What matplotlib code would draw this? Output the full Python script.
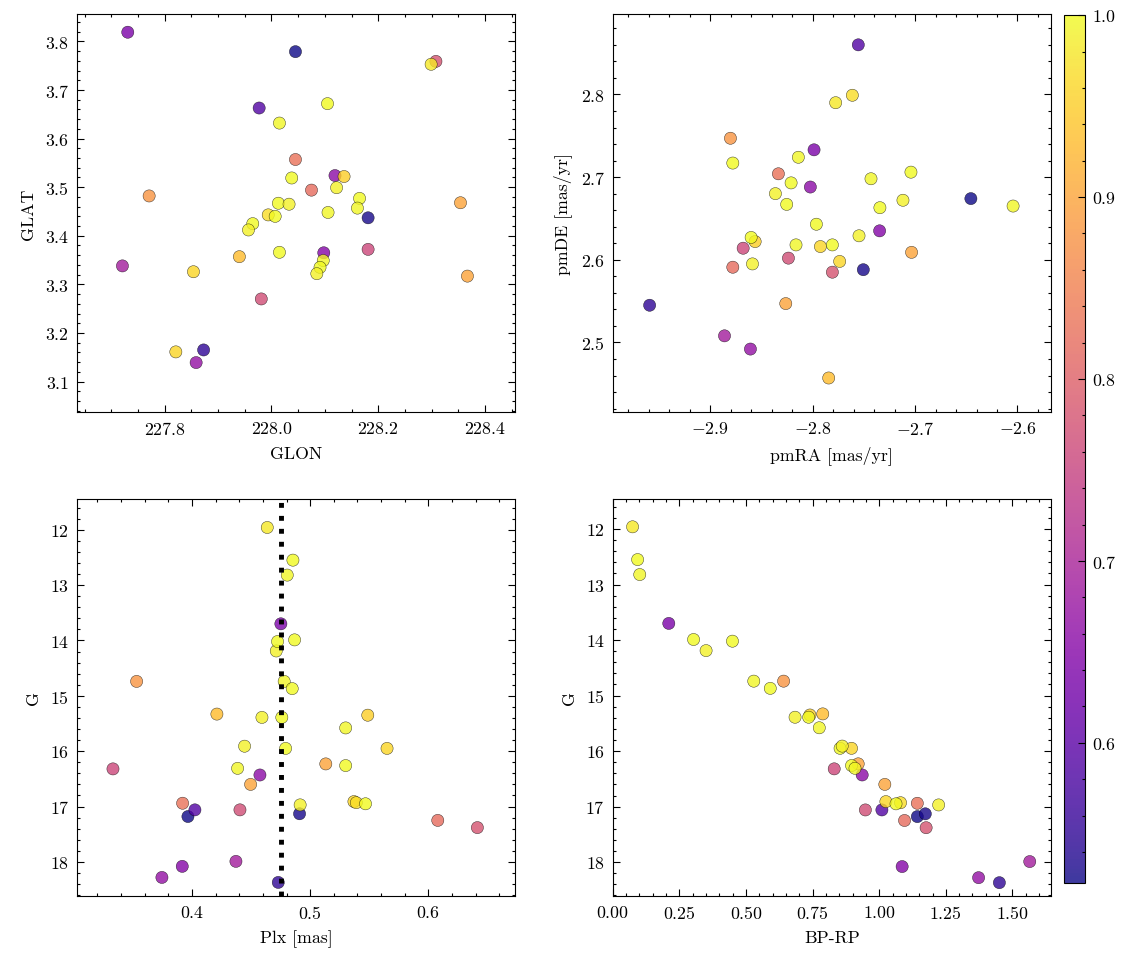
import matplotlib

matplotlib.use("Agg")
import matplotlib.pyplot as plt
from matplotlib.ticker import AutoMinorLocator, MultipleLocator

# one entry per star, same order in every list
GLON = [228.045, 228.181, 227.873,
        227.977, 227.721, 227.731, 228.119, 228.098, 227.859,
        228.181, 227.981, 228.308,
        228.045, 228.075,
        227.771, 228.354, 228.367,
        228.136, 227.940, 227.821, 227.854, 227.994,
        228.299, 228.105, 228.015, 228.038, 228.122, 228.165, 228.161, 228.013,
        228.033, 228.007, 228.106, 227.965, 227.957, 228.015, 228.097, 228.091,
        228.085]
GLAT = [3.779, 3.437, 3.165,
        3.663, 3.338, 3.819, 3.524, 3.365, 3.139,
        3.372, 3.270, 3.759,
        3.557, 3.494,
        3.482, 3.468, 3.317,
        3.522, 3.357, 3.161, 3.326, 3.443,
        3.753, 3.672, 3.632, 3.519, 3.499, 3.477, 3.457, 3.467,
        3.465, 3.440, 3.448, 3.425, 3.412, 3.366, 3.349, 3.335,
        3.322]
PMRA = [-2.6455, -2.7505, -2.9591,
        -2.7554, -2.8860, -2.7986, -2.8022, -2.7346, -2.8607,
        -2.8678, -2.8236, -2.7807,
        -2.8334, -2.8779,
        -2.8802, -2.7034, -2.8262,
        -2.8561, -2.7843, -2.7924, -2.7736, -2.7612,
        -2.7775, -2.8779, -2.8139, -2.8210, -2.8363, -2.8253, -2.7430, -2.7040,
        -2.7118, -2.7343, -2.6043, -2.7963, -2.7547, -2.8600, -2.8162, -2.7807,
        -2.8587]
PMDE = [2.674, 2.588, 2.545,
        2.860, 2.508, 2.733, 2.688, 2.635, 2.492,
        2.614, 2.602, 2.585,
        2.704, 2.591,
        2.747, 2.609, 2.547,
        2.622, 2.457, 2.616, 2.598, 2.799,
        2.790, 2.717, 2.724, 2.693, 2.680, 2.667, 2.698, 2.706,
        2.672, 2.663, 2.665, 2.643, 2.629, 2.627, 2.618, 2.618,
        2.595]
PLX = [0.3966, 0.4910, 0.4730,
       0.4025, 0.4372, 0.4752, 0.4575, 0.3918, 0.3746,
       0.3332, 0.4406, 0.6414,
       0.3921, 0.6079,
       0.3532, 0.5132, 0.4496,
       0.5487, 0.4211, 0.5650, 0.5370, 0.5390,
       0.4637, 0.4854, 0.4806, 0.4868, 0.4713, 0.4724, 0.4780, 0.4848,
       0.4592, 0.4760, 0.5300, 0.4792, 0.4445, 0.5300, 0.4386, 0.5468,
       0.4915]
GMAG = [17.18, 17.13, 18.37,
        17.06, 17.99, 13.70, 16.43, 18.08, 18.28,
        16.32, 17.06, 17.38,
        16.94, 17.25,
        14.74, 16.23, 16.60,
        15.35, 15.33, 15.95, 16.91, 16.93,
        11.96, 12.55, 12.82, 13.99, 14.19, 14.02, 14.74, 14.87,
        15.39, 15.39, 15.58, 15.95, 15.91, 16.26, 16.31, 16.95,
        16.97]
BPRP = [1.143, 1.173, 1.451,
        1.010, 1.565, 0.210, 0.936, 1.086, 1.373,
        0.831, 0.948, 1.176,
        1.143, 1.095,
        0.641, 0.921, 1.021,
        0.740, 0.788, 0.896, 1.025, 1.080,
        0.074, 0.093, 0.101, 0.303, 0.350, 0.449, 0.529, 0.591,
        0.684, 0.735, 0.775, 0.853, 0.861, 0.896, 0.909, 1.063,
        1.223]
PROB = [0.523, 0.530, 0.550,
        0.590, 0.690, 0.640, 0.660, 0.650, 0.670,
        0.760, 0.770, 0.780,
        0.830, 0.820,
        0.880, 0.900, 0.900,
        0.950, 0.930, 0.960, 0.960, 0.970,
        0.980, 1.000, 0.995, 1.000, 0.990, 1.000, 0.995, 1.000,
        0.990, 1.000, 0.995, 1.000, 0.990, 1.000, 0.995, 1.000,
        0.990]

PLX_MEAN = 0.475


def setup_style() -> None:
    plt.rcParams.update({
        "font.family": "serif",
        "font.serif": ["cmr10"],
        "mathtext.fontset": "cm",
        "axes.formatter.use_mathtext": True,
        "axes.unicode_minus": True,
        "font.size": 8,
        "axes.linewidth": 0.5,
        "xtick.direction": "in",
        "ytick.direction": "in",
        "xtick.top": True,
        "ytick.right": True,
        "xtick.major.size": 3,
        "ytick.major.size": 3,
        "xtick.minor.size": 1.5,
        "ytick.minor.size": 1.5,
        "xtick.major.width": 0.5,
        "ytick.major.width": 0.5,
        "xtick.minor.width": 0.5,
        "ytick.minor.width": 0.5,
        "xtick.minor.visible": True,
        "ytick.minor.visible": True,
    })


def scatter(ax, x, y):
    return ax.scatter(x, y, c=PROB, cmap="plasma", s=30, alpha=0.8,
                      edgecolors="k", linewidths=0.2,
                      vmin=min(PROB), vmax=max(PROB))


def main() -> None:
    setup_style()
    fig = plt.figure(figsize=(7.08, 6.03), dpi=160)

    ax1 = fig.add_axes([0.068, 0.572, 0.3866, 0.4124])
    ax2 = fig.add_axes([0.541, 0.572, 0.3866, 0.4124])
    ax3 = fig.add_axes([0.068, 0.0705, 0.3866, 0.4114])
    ax4 = fig.add_axes([0.541, 0.0705, 0.3866, 0.4114])
    cax = fig.add_axes([0.939, 0.084, 0.0185, 0.8995])

    sc = scatter(ax1, GLON, GLAT)
    ax1.set_xlim(227.636, 228.456)
    ax1.set_ylim(3.037, 3.856)
    ax1.set_xlabel("GLON")
    ax1.set_ylabel("GLAT")

    scatter(ax2, PMRA, PMDE)
    ax2.set_xlim(-2.995, -2.5675)
    ax2.set_ylim(2.4157, 2.897)
    ax2.set_xlabel("pmRA [mas/yr]")
    ax2.set_ylabel("pmDE [mas/yr]")

    scatter(ax3, PLX, GMAG)
    ax3.axvline(PLX_MEAN, color="k", ls=":", lw=2.2)
    ax3.set_xlim(0.3028, 0.6732)
    ax3.set_ylim(18.615, 11.447)
    ax3.xaxis.set_major_locator(MultipleLocator(0.1))
    ax3.set_xlabel("Plx [mas]")
    ax3.set_ylabel("G")

    scatter(ax4, BPRP, GMAG)
    ax4.set_xlim(0.0, 1.644)
    ax4.set_ylim(18.61, 11.46)
    ax4.set_xlabel("BP-RP")
    ax4.set_ylabel("G")

    for ax in (ax1, ax2, ax3, ax4):
        ax.xaxis.set_minor_locator(AutoMinorLocator())
        ax.yaxis.set_minor_locator(AutoMinorLocator())

    cbar = fig.colorbar(sc, cax=cax)
    cbar.outline.set_linewidth(0.5)
    cbar.ax.yaxis.set_minor_locator(AutoMinorLocator())
    cbar.ax.tick_params(which="both", direction="in", right=True, left=False)

    fig.savefig("out.png", dpi=160)
    plt.close(fig)


if __name__ == "__main__":
    main()
